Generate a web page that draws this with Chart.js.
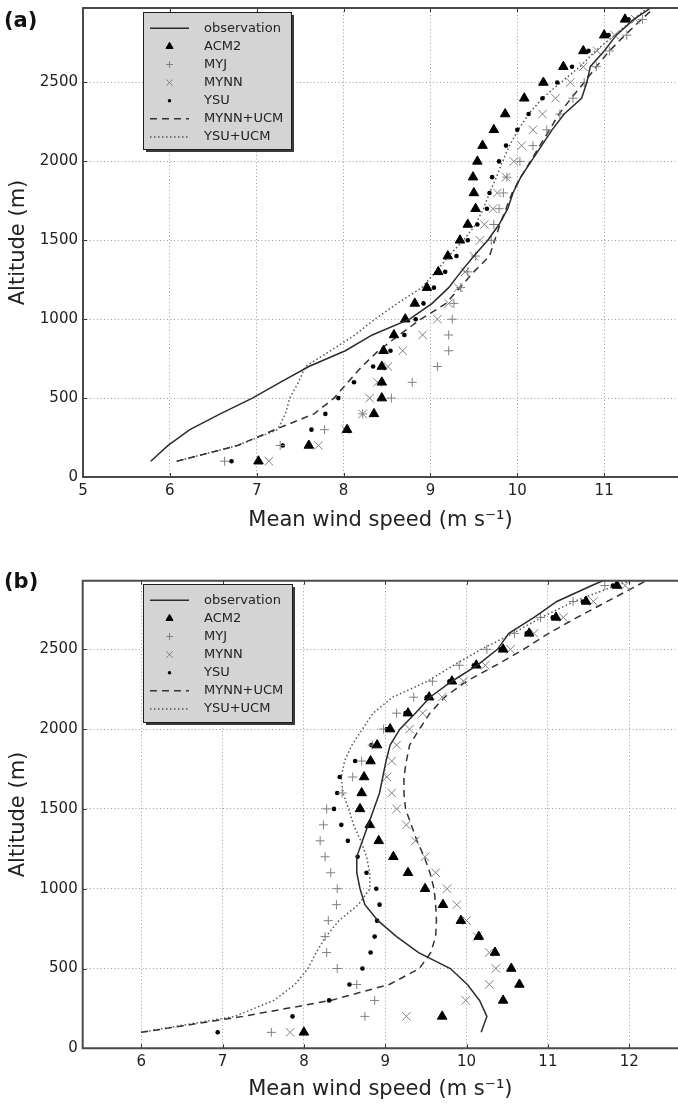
<!DOCTYPE html>
<html lang="en">
<head>
<meta charset="UTF-8">
<title>Mean wind speed profiles</title>
<script src="https://cdn.jsdelivr.net/npm/chart.js"></script>
<style>
  body { margin: 0; background: #fff; width: 678px; height: 1105px; position: relative; overflow: hidden; font-family: "DejaVu Sans", sans-serif; }
  .panel { position: absolute; left: 0; width: 678px; }
  .tag { position: absolute; left: 4px; font-weight: bold; font-size: 21px; line-height: 1; color: #111; }
</style>
</head>
<body>
<div class="panel" style="top:0;height:545px"><canvas id="chartA"></canvas></div>
<div class="tag" style="top:10px">(a)</div>
<div class="panel" style="top:552px;height:553px"><canvas id="chartB"></canvas></div>
<div class="tag" style="top:571px">(b)</div>

<script>
// altitudes of the model levels (markers) and of the line profiles
const markerAlt = [100, 200, 300, 400, 500, 600, 700, 800, 900, 1000, 1100, 1200, 1300, 1400, 1500,
                   1600, 1700, 1800, 1900, 2000, 2100, 2200, 2300, 2400, 2500, 2600, 2700, 2800, 2900];
const lineAlt = markerAlt.concat([3000]);

const yTicks = [0, 500, 1000, 1500, 2000, 2500];
const xTicksA = [5, 6, 7, 8, 9, 10, 11];
const xTicksB = [6, 7, 8, 9, 10, 11, 12];

// panel (a)
const obsA = [5.78, 5.98, 6.23, 6.58, 6.95, 7.27, 7.60, 8.02, 8.33, 8.76, 9.02, 9.21, 9.35, 9.50, 9.66,
              9.79, 9.89, 9.95, 10.04, 10.16, 10.28, 10.40, 10.54, 10.74, 10.80, 10.84, 11.00, 11.14, 11.34, 11.61];
const acmA = [7.02, 7.60, 8.04, 8.35, 8.44, 8.44, 8.44, 8.46, 8.58, 8.71, 8.82, 8.96, 9.09, 9.20, 9.34,
              9.43, 9.52, 9.50, 9.49, 9.54, 9.60, 9.73, 9.86, 10.08, 10.30, 10.53, 10.76, 11.00, 11.24];
const myjA = [6.63, 7.27, 7.78, 8.22, 8.55, 8.79, 9.08, 9.21, 9.21, 9.25, 9.27, 9.35, 9.43, 9.52, 9.70,
              9.73, 9.79, 9.84, 9.88, 10.03, 10.18, 10.34, 10.49, 10.64, 10.77, 10.91, 11.06, 11.26, 11.44];
const mynnA = [7.14, 7.71, 8.02, 8.22, 8.30, 8.39, 8.51, 8.68, 8.91, 9.08, 9.21, 9.32, 9.40, 9.50, 9.57,
               9.62, 9.72, 9.77, 9.87, 9.96, 10.05, 10.18, 10.29, 10.44, 10.61, 10.76, 10.92, 11.12, 11.36];
const ysuA = [6.71, 7.30, 7.63, 7.79, 7.94, 8.12, 8.34, 8.54, 8.70, 8.83, 8.92, 9.04, 9.17, 9.30, 9.43,
              9.54, 9.65, 9.68, 9.71, 9.79, 9.87, 10.00, 10.13, 10.29, 10.46, 10.63, 10.82, 11.05, 11.28];
const mynnUcmA = [6.08, 6.78, 7.21, 7.66, 7.89, 8.05, 8.21, 8.40, 8.64, 8.89, 9.18, 9.34, 9.50, 9.68, 9.74,
                  9.80, 9.87, 9.94, 10.04, 10.15, 10.26, 10.37, 10.48, 10.62, 10.77, 10.91, 11.06, 11.24, 11.43, 11.63];
const ysuUcmA = [6.08, 6.78, 7.24, 7.33, 7.38, 7.48, 7.56, 7.85, 8.13, 8.36, 8.62, 8.90, 9.06, 9.21, 9.38,
                 9.52, 9.61, 9.68, 9.76, 9.83, 9.91, 10.01, 10.13, 10.29, 10.50, 10.72, 10.90, 11.12, 11.34, 11.56];

// panel (b)
const obsB = [10.18, 10.25, 10.16, 10.01, 9.80, 9.41, 9.14, 8.91, 8.75, 8.69, 8.65, 8.65, 8.72, 8.79, 8.86,
              8.93, 8.97, 9.01, 9.06, 9.18, 9.37, 9.55, 9.82, 10.13, 10.38, 10.52, 10.83, 11.11, 11.54, 12.0];
const acmB = [8.00, 9.70, 10.45, 10.65, 10.55, 10.35, 10.15, 9.93, 9.71, 9.49, 9.28, 9.10, 8.92, 8.81, 8.69,
              8.71, 8.74, 8.82, 8.90, 9.06, 9.28, 9.54, 9.82, 10.12, 10.45, 10.77, 11.10, 11.47, 11.85];
const myjB = [7.60, 8.75, 8.87, 8.65, 8.41, 8.28, 8.26, 8.30, 8.40, 8.41, 8.33, 8.26, 8.20, 8.24, 8.28,
              8.47, 8.60, 8.71, 8.84, 8.98, 9.14, 9.35, 9.58, 9.91, 10.25, 10.59, 10.91, 11.31, 11.70];
const mynnB = [7.83, 9.26, 9.99, 10.28, 10.36, 10.28, 10.13, 10.00, 9.88, 9.76, 9.62, 9.49, 9.37, 9.26, 9.14,
               9.08, 9.02, 9.08, 9.14, 9.30, 9.46, 9.70, 9.96, 10.23, 10.54, 10.83, 11.19, 11.56, 11.95];
const ysuB = [6.94, 7.86, 8.31, 8.56, 8.72, 8.82, 8.87, 8.90, 8.93, 8.89, 8.77, 8.66, 8.54, 8.46, 8.37,
              8.41, 8.44, 8.63, 8.83, 9.02, 9.25, 9.51, 9.79, 10.09, 10.42, 10.74, 11.06, 11.43, 11.80];
const mynnUcmB = [6.00, 7.25, 8.33, 9.05, 9.42, 9.56, 9.62, 9.63, 9.62, 9.60, 9.55, 9.48, 9.39, 9.32, 9.25,
                  9.23, 9.23, 9.26, 9.30, 9.42, 9.55, 9.73, 10.00, 10.36, 10.70, 11.01, 11.36, 11.73, 12.10, 12.45];
const ysuUcmB = [6.00, 7.15, 7.63, 7.89, 8.05, 8.15, 8.27, 8.43, 8.67, 8.81, 8.81, 8.77, 8.70, 8.61, 8.55,
                 8.48, 8.46, 8.50, 8.59, 8.72, 8.85, 9.09, 9.52, 9.84, 10.18, 10.57, 10.92, 11.32, 11.84, 12.45];

Chart.defaults.font.family = '"DejaVu Sans", sans-serif';
Chart.defaults.color = '#222';

function pts(xs, alts) {
  return xs.map((v, i) => ({ x: v, y: alts[i] }));
}

function lineSet(label, xs, dash, color) {
  return { label, data: pts(xs, lineAlt), showLine: true, pointRadius: 0, borderColor: color,
           backgroundColor: color, borderWidth: 1.5, borderDash: dash, tension: 0 };
}

function markSet(label, xs, style, radius, color, bw) {
  return { label, data: pts(xs, markerAlt), showLine: false, pointStyle: style, pointRadius: radius,
           backgroundColor: color, borderColor: color, pointBorderWidth: bw };
}

// keep the plot box exactly where the reference has it
function noPad(s) {
  s.paddingLeft = 0; s.paddingRight = 0; s.paddingTop = 0; s.paddingBottom = 0;
}

// frame, inward ticks and the boxed legend, drawn on top of the plot
const decor = {
  id: 'decor',
  afterDraw(chart, args, o) {
    const ctx = chart.ctx, a = chart.chartArea, sx = chart.scales.x, sy = chart.scales.y;
    ctx.save();
    ctx.setLineDash([]);
    ctx.strokeStyle = '#333';
    ctx.lineWidth = 1;
    ctx.beginPath();
    sx.ticks.forEach(t => {
      const p = Math.round(sx.getPixelForValue(t.value)) + 0.5;
      ctx.moveTo(p, a.top); ctx.lineTo(p, a.top + 4);
      ctx.moveTo(p, a.bottom); ctx.lineTo(p, a.bottom - 4);
    });
    sy.ticks.forEach(t => {
      const p = Math.round(sy.getPixelForValue(t.value)) + 0.5;
      ctx.moveTo(a.left, p); ctx.lineTo(a.left + 4, p);
    });
    ctx.stroke();

    ctx.strokeStyle = '#4a4a4a';
    ctx.lineWidth = 2;
    ctx.beginPath();
    ctx.moveTo(a.right + 2, a.top);
    ctx.lineTo(a.left, a.top);
    ctx.lineTo(a.left, a.bottom);
    ctx.lineTo(a.right + 2, a.bottom);
    ctx.stroke();

    const L = o.legend;
    ctx.fillStyle = '#3a3a3a';
    ctx.fillRect(L.x + 3, L.y + 3, L.w, L.h);
    ctx.fillStyle = '#d4d4d4';
    ctx.fillRect(L.x, L.y, L.w, L.h);
    ctx.strokeStyle = '#1e1e1e';
    ctx.lineWidth = 1;
    ctx.strokeRect(L.x + 0.5, L.y + 0.5, L.w, L.h);
    ctx.font = '13px "DejaVu Sans"';
    ctx.textBaseline = 'middle';
    chart.data.datasets.forEach((ds, i) => {
      const cy = L.y + L.first + i * L.row;
      if (ds.showLine) {
        ctx.strokeStyle = ds.borderColor;
        ctx.lineWidth = ds.borderWidth;
        ctx.setLineDash(ds.borderDash || []);
        ctx.beginPath();
        ctx.moveTo(L.x + 7, cy);
        ctx.lineTo(L.x + 46, cy);
        ctx.stroke();
        ctx.setLineDash([]);
      } else {
        ctx.fillStyle = ds.backgroundColor;
        ctx.strokeStyle = ds.borderColor;
        ctx.lineWidth = ds.pointBorderWidth;
        Chart.helpers.drawPoint(ctx, { pointStyle: ds.pointStyle, radius: ds.pointRadius * 0.75,
                                       borderWidth: ds.pointBorderWidth, rotation: 0 }, L.x + 26.5, cy);
      }
      ctx.fillStyle = '#222';
      ctx.fillText(ds.label, L.x + 61, cy);
    });
    ctx.restore();
  }
};

function makeChart(id, p) {
  const datasets = [
    lineSet('observation', p.obs, [], '#2b2b2b'),
    markSet('ACM2', p.acm, 'triangle', 5.5, '#000', 1),
    markSet('MYJ', p.myj, 'cross', 4.5, '#808080', 1),
    markSet('MYNN', p.mynn, 'crossRot', 6, '#808080', 1),
    markSet('YSU', p.ysu, 'circle', 2.3, '#000', 0),
    lineSet('MYNN+UCM', p.mynnUcm, [7, 5], '#333'),
    lineSet('YSU+UCM', p.ysuUcm, [1.5, 2.5], '#555')
  ];
  return new Chart(document.getElementById(id), {
    type: 'scatter',
    data: { datasets },
    options: {
      responsive: true,
      maintainAspectRatio: false,
      animation: false,
      layout: { autoPadding: false, padding: { top: p.top, right: 0, left: 0, bottom: 0 } },
      plugins: {
        legend: { display: false },
        tooltip: { enabled: false },
        decor: { legend: p.legend }
      },
      scales: {
        x: {
          type: 'linear', min: p.xMin, max: p.xMax,
          afterBuildTicks: s => { s.ticks = p.xTicks.map(v => ({ value: v })); },
          afterFit: s => { s.height = p.xSpace; noPad(s); },
          grid: { color: '#9c9c9c', lineWidth: 1, drawTicks: false },
          border: { display: false, dash: [1, 2.5] },
          ticks: { font: { size: 15 }, padding: 5, callback: v => String(v) },
          title: { display: true, text: 'Mean wind speed (m s⁻¹)', font: { size: 21 }, padding: { top: 0, bottom: p.titlePad } }
        },
        y: {
          type: 'linear', min: 0, max: p.yMax,
          afterBuildTicks: s => { s.ticks = yTicks.map(v => ({ value: v })); },
          afterFit: s => { s.width = p.yWidth; noPad(s); },
          grid: { color: '#9c9c9c', lineWidth: 1, drawTicks: false },
          border: { display: false, dash: [1, 2.5] },
          ticks: { font: { size: 15 }, padding: 5, callback: v => String(v) },
          title: { display: true, text: 'Altitude (m)', font: { size: 21 }, padding: { top: 6, bottom: 0 } }
        }
      }
    },
    plugins: [decor]
  });
}

makeChart('chartA', {
  obs: obsA, acm: acmA, myj: myjA, mynn: mynnA, ysu: ysuA, mynnUcm: mynnUcmA, ysuUcm: ysuUcmA,
  xMin: 5, xMax: 11.85, xTicks: xTicksA, yMax: 2972,
  top: 8, xSpace: 68, yWidth: 83, titlePad: 12,
  legend: { x: 143, y: 12, w: 148, h: 137, first: 16.3, row: 18.1 }
});

makeChart('chartB', {
  obs: obsB, acm: acmB, myj: myjB, mynn: mynnB, ysu: ysuB, mynnUcm: mynnUcmB, ysuUcm: ysuUcmB,
  xMin: 5.28, xMax: 12.6, xTicks: xTicksB, yMax: 2930,
  top: 28.7, xSpace: 56.7, yWidth: 82.7, titlePad: 2.5,
  legend: { x: 143, y: 32, w: 149, h: 138, first: 16.3, row: 18.1 }
});
</script>
</body>
</html>
